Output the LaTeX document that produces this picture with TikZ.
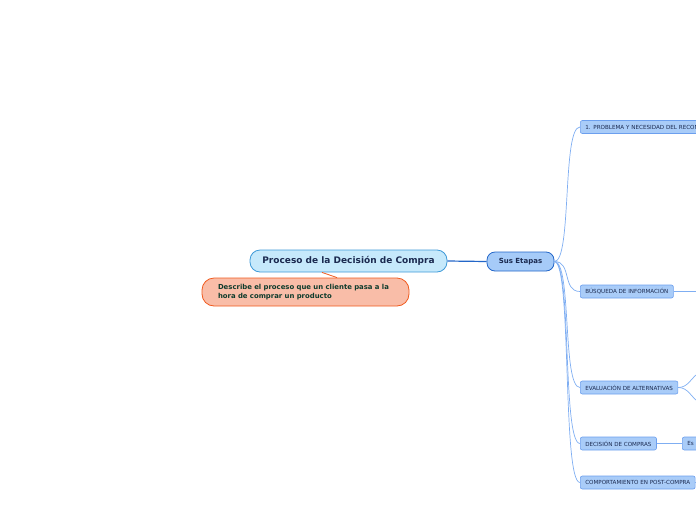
\documentclass[tikz,border=0pt]{standalone}
\usepackage{fontspec}
\setmainfont{DejaVu Sans}
\definecolor{titlefill}{HTML}{C6E9FB}
\definecolor{titledraw}{HTML}{3E9AD8}
\definecolor{notefill}{HTML}{F9BDA8}
\definecolor{notedraw}{HTML}{F05A1E}
\definecolor{stagefill}{HTML}{A6CBF8}
\definecolor{stagedraw}{HTML}{2366C8}
\definecolor{subfill}{HTML}{A9CCF8}
\definecolor{subdraw}{HTML}{6C9FEE}
\definecolor{linkcol}{HTML}{7FAEF2}
\definecolor{textnavy}{HTML}{1B2A50}
\definecolor{textgreen}{HTML}{0E3B2C}
\begin{document}
\begin{tikzpicture}[x=1pt,y=-1pt,
  mainnode/.style={draw=titledraw,fill=titlefill,rounded corners=10pt,line width=0.8pt,
    minimum width=197pt,minimum height=22pt,inner sep=0pt,
    font=\fontsize{9}{11}\selectfont\bfseries,text=textnavy},
  notenode/.style={draw=notedraw,fill=notefill,rounded corners=12pt,line width=0.8pt,
    minimum width=207pt,minimum height=28pt,inner xsep=16pt,inner ysep=0pt,
    text width=175pt,align=left,font=\fontsize{6.9}{9.5}\selectfont\bfseries,text=textgreen},
  stagenode/.style={draw=stagedraw,fill=stagefill,rounded corners=8pt,line width=0.8pt,
    minimum width=67pt,minimum height=19pt,inner sep=0pt,
    font=\fontsize{7}{8}\selectfont\bfseries,text=textnavy},
  subnode/.style={draw=subdraw,fill=subfill,rounded corners=2pt,line width=0.6pt,
    anchor=west,minimum height=13pt,inner xsep=5pt,inner ysep=0pt,
    font=\fontsize{5.6}{6.5}\selectfont,text=textnavy},
  link/.style={draw=linkcol,line width=0.7pt}]
\clip (0,0) rectangle (696,520);
% central topic and its note
\node[mainnode] (proceso) at (348.5,261) {Proceso de la Decisión de Compra};
\node[notenode] (nota) at (305.5,292) {Describe el proceso que un cliente pasa a la\\hora de comprar un producto};
\draw[notedraw,line width=0.8pt] (proceso.south -| 322,0) -- (nota.north -| 337,0);
\node[stagenode] (etapas) at (520.5,261.5) {Sus Etapas};
\draw[stagedraw,line width=1.2pt] (proceso.east) -- (etapas.west);
% stages
\node[subnode,minimum width=140pt,align=left,text width=130pt] (problema) at (580,127) {1. PROBLEMA Y NECESIDAD DEL RECON};
\node[subnode,minimum width=92pt] (busqueda) at (580,291.5) {BÚSQUEDA DE INFORMACIÓN};
\node[subnode,minimum width=97pt] (evaluacion) at (580,387.5) {EVALUACIÓN DE ALTERNATIVAS};
\node[subnode,minimum width=76pt] (decision) at (580,443.5) {DECISIÓN DE COMPRAS};
\node[subnode,minimum width=113pt] (post) at (580,482.5) {COMPORTAMIENTO EN POST-COMPRA};
\node[subnode,minimum width=40pt,align=left,text width=30pt] (es) at (682,443.5) {Es};
\foreach \n in {problema,busqueda,evaluacion,decision,post}
  \draw[link] (etapas.east) .. controls (572,261.5) and (562,0 |- \n.west) .. (\n.west);
% branches leaving the picture
\coordinate (busq-r) at (700,291.5);
\coordinate (eval-up) at (700,372);
\coordinate (eval-dn) at (700,403);
\coordinate (post-r) at (700,482.5);
\draw[link] (busqueda.east) -- (busq-r);
\draw[link] (evaluacion.east) to[out=0,in=210] (eval-up);
\draw[link] (evaluacion.east) to[out=0,in=150] (eval-dn);
\draw[link] (decision.east) -- (es.west);
\draw[link] (post.east) -- (post-r);
\end{tikzpicture}
\end{document}
